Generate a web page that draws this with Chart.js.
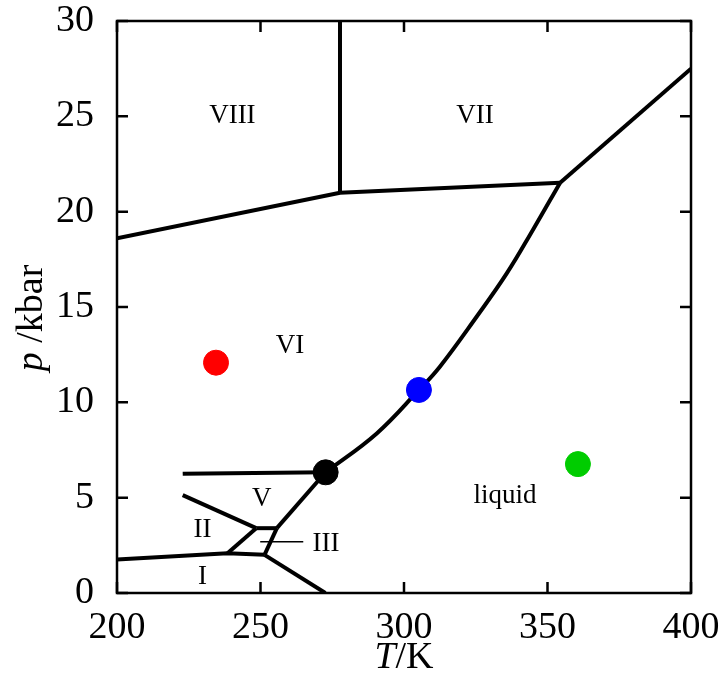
<!DOCTYPE html>
<html>
<head>
<meta charset="utf-8">
<script src="https://cdn.jsdelivr.net/npm/chart.js@4"></script>
<style>
  html, body { margin: 0; padding: 0; background: #fff; }
  #wrap { width: 719px; height: 689px; }
</style>
</head>
<body>
<div id="wrap"><canvas id="phase"></canvas></div>
<script>
// ice phase diagram, T in K, p in kbar
const xTicks = [200, 250, 300, 350, 400];
const yTicks = [0, 5, 10, 15, 20, 25, 30];

// phase boundaries [T, p]
const lineVIII_VI = [[200, 18.6], [277.7, 20.99]];
const lineVIII_VII = [[277.7, 20.99], [277.7, 30]];
const lineVI_VII = [[277.7, 20.99], [354.4, 21.52]];
const meltVII = [[354.4, 21.52], [400, 27.5]];
const meltVI = [[272.7, 6.33], [290.5, 8.37], [305.2, 10.65], [312.5, 11.87], [325.3, 14.49], [335.8, 16.76], [344.9, 19.04], [354.4, 21.52]];
const lineV_VI = [[222.9, 6.25], [272.7, 6.33]];
const lineII_V = [[222.9, 5.13], [248.5, 3.4]];
const lineV_III = [[248.5, 3.4], [255.7, 3.4]];
const meltV = [[255.7, 3.4], [272.7, 6.33]];
const lineII_III = [[238.5, 2.08], [248.5, 3.4]];
const lineI_III = [[251.4, 2.0], [255.7, 3.4]];
const lineI_II = [[200, 1.76], [238.5, 2.08], [251.4, 2.0]];
const meltI = [[251.4, 2.0], [272.6, 0]];
const pointerIII = [[249.9, 2.69], [264.9, 2.69]];

// state points
const dotT = [234.5, 305.2, 272.7, 360.6];
const dotP = [12.08, 10.65, 6.33, 6.76];
const dotColors = ['#ff0000', '#0000ff', '#000000', '#00cc00'];

// region names
const regionNames = ['VIII', 'VII', 'VI', 'V', 'II', 'III', 'I', 'liquid'];
const regionT = [240.2, 324.7, 260.3, 250.4, 229.8, 272.8, 229.8, 335.2];
const regionP = [25.0, 25.0, 12.95, 4.93, 3.3, 2.6, 0.84, 5.09];

const serif = '"Liberation Serif", "DejaVu Serif", serif';

function toXY(arr) {
    return arr.map(function (d) { return { x: d[0], y: d[1] }; });
}

function boundary(arr, extra) {
    return Object.assign({
        type: 'line',
        data: toXY(arr),
        borderColor: '#000',
        borderWidth: 4,
        pointRadius: 0,
        fill: false,
        order: 1
    }, extra || {});
}

const frame = {
    id: 'frame',
    afterDraw: function (chart) {
        const ctx = chart.ctx;
        const a = chart.chartArea;
        const xs = chart.scales.x;
        const ys = chart.scales.y;
        ctx.save();
        ctx.strokeStyle = '#000';
        ctx.lineWidth = 2.5;
        ctx.strokeRect(a.left, a.top, a.right - a.left, a.bottom - a.top);
        const len = 11;
        ctx.beginPath();
        xTicks.forEach(function (t) {
            const px = xs.getPixelForValue(t);
            ctx.moveTo(px, a.bottom);
            ctx.lineTo(px, a.bottom - len);
            ctx.moveTo(px, a.top);
            ctx.lineTo(px, a.top + len);
        });
        yTicks.forEach(function (t) {
            const py = ys.getPixelForValue(t);
            ctx.moveTo(a.left, py);
            ctx.lineTo(a.left + len, py);
            ctx.moveTo(a.right, py);
            ctx.lineTo(a.right - len, py);
        });
        ctx.stroke();

        // region labels
        ctx.fillStyle = '#000';
        ctx.textAlign = 'center';
        ctx.textBaseline = 'middle';
        ctx.font = '27px ' + serif;
        regionNames.forEach(function (n, i) {
            ctx.fillText(n, xs.getPixelForValue(regionT[i]), ys.getPixelForValue(regionP[i]));
        });

        // axis titles with italic symbols
        function mixed(parts, cx, cy) {
            let w = 0;
            parts.forEach(function (p) { ctx.font = p[1] + ' 38px ' + serif; w += ctx.measureText(p[0]).width; });
            let x = cx - w / 2;
            ctx.textAlign = 'left';
            parts.forEach(function (p) {
                ctx.font = p[1] + ' 38px ' + serif;
                ctx.fillText(p[0], x, cy);
                x += ctx.measureText(p[0]).width;
            });
        }
        mixed([['T', 'italic'], ['/K', 'normal']], (a.left + a.right) / 2, 658);
        ctx.translate(32, 318);
        ctx.rotate(-Math.PI / 2);
        mixed([['p', 'italic'], [' /kbar', 'normal']], 0, 0);
        ctx.restore();
    }
};

const datasets = [];
dotT.forEach(function (t, i) {
    datasets.push({
        type: 'scatter',
        data: [{ x: t, y: dotP[i] }],
        backgroundColor: dotColors[i],
        borderColor: dotColors[i],
        pointRadius: 12.5,
        order: 0
    });
});
[lineVIII_VI, lineVIII_VII, lineVI_VII, meltVII, lineV_VI, lineII_V, lineV_III,
 meltV, lineII_III, lineI_III, lineI_II, meltI].forEach(function (l) {
    datasets.push(boundary(l));
});
datasets.push(boundary(meltVI, { tension: 0.4 }));
datasets.push(boundary(pointerIII, { borderWidth: 1.5 }));

new Chart(document.getElementById('phase').getContext('2d'), {
    type: 'scatter',
    data: { datasets: datasets },
    options: {
        responsive: true,
        maintainAspectRatio: false,
        animation: false,
        layout: { padding: { top: 21, right: 28, left: 0, bottom: 0 } },
        plugins: {
            legend: { display: false },
            tooltip: { enabled: false }
        },
        scales: {
            x: {
                type: 'linear',
                min: 200,
                max: 400,
                afterFit: function (s) {
                    s.height = 96;
                    s.paddingLeft = 0;
                    s.paddingRight = 0;
                },
                afterBuildTicks: function (s) { s.ticks = xTicks.map(function (v) { return { value: v }; }); },
                grid: { display: false },
                border: { display: false },
                ticks: { color: '#000', padding: 4, font: { family: serif, size: 38 } }
            },
            y: {
                type: 'linear',
                min: 0,
                max: 30,
                afterFit: function (s) {
                    s.width = 117;
                    s.paddingTop = 0;
                    s.paddingBottom = 0;
                },
                afterBuildTicks: function (s) { s.ticks = yTicks.map(function (v) { return { value: v }; }); },
                grid: { display: false },
                border: { display: false },
                ticks: { color: '#000', padding: 15, font: { family: serif, size: 38 } }
            }
        }
    },
    plugins: [frame]
});
</script>
</body>
</html>
